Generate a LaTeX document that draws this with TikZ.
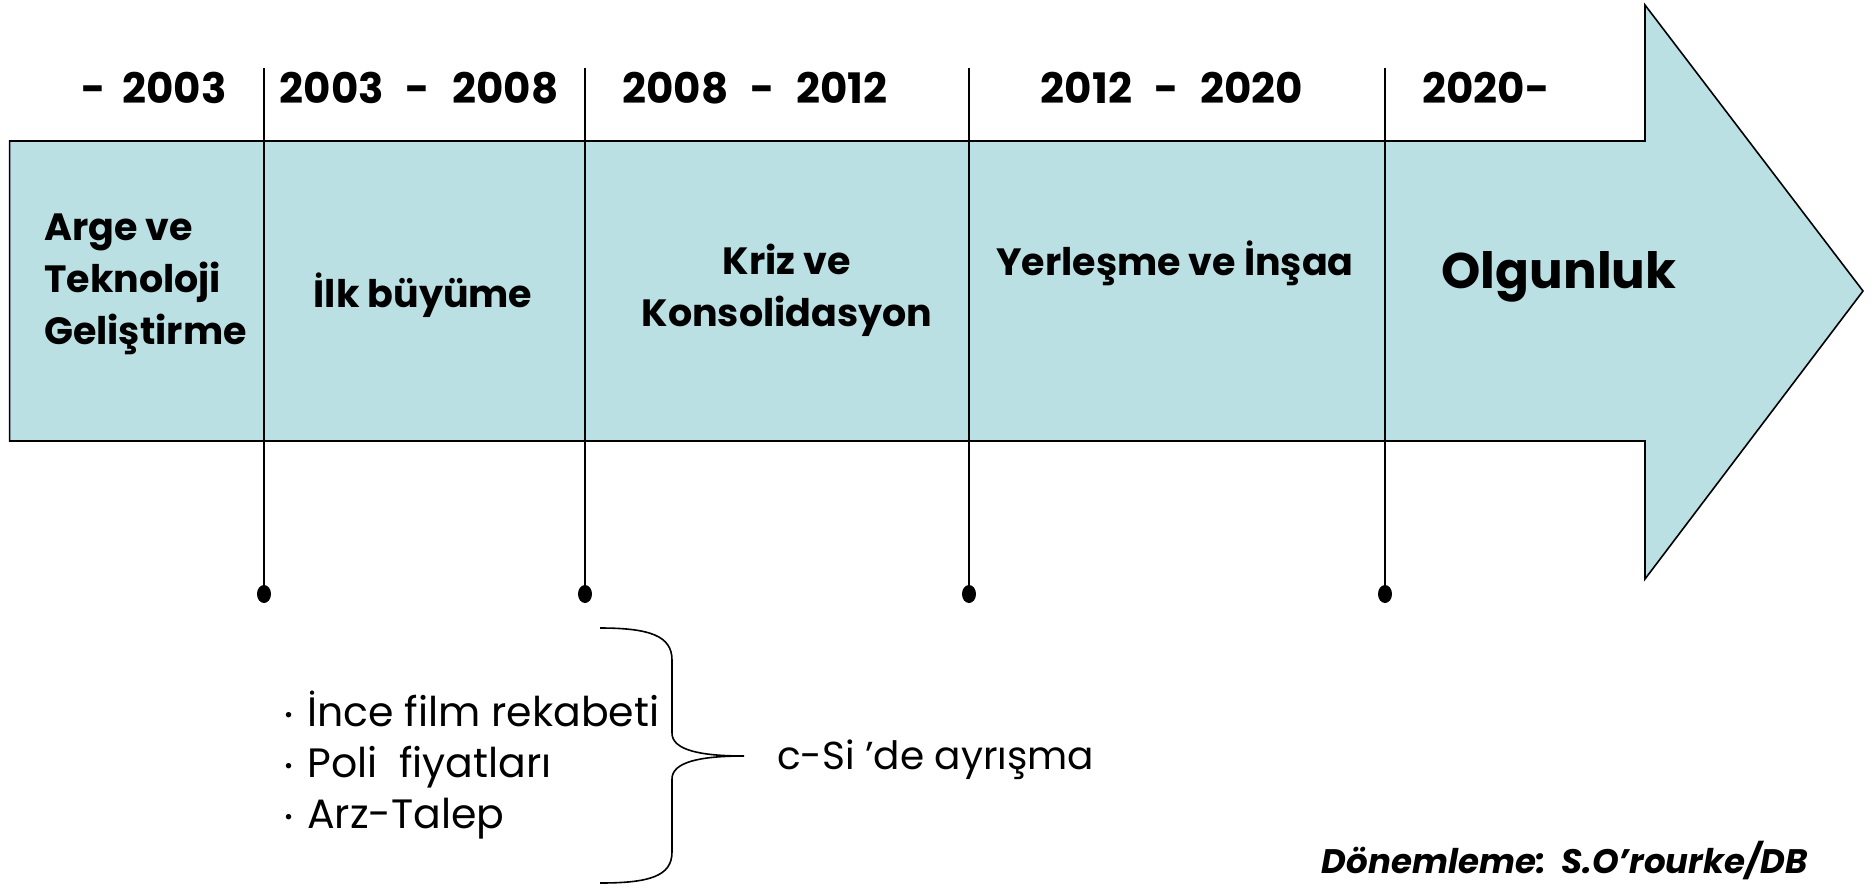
\documentclass[tikz,border=0pt]{standalone}
\usepackage{fontspec}
\usetikzlibrary{shapes.geometric}
\setmainfont{Poppins}
\definecolor{arrowfill}{RGB}{186,224,228}
\newcommand{\dsep}{\hspace{22pt}-\hspace{22pt}}
\newcommand{\bul}{{\fontsize{22}{22}\selectfont\raisebox{4pt}{•}}\hspace{14pt}}
\tikzset{
  yearlbl/.style={font=\fontsize{42}{48}\selectfont\bfseries, inner sep=0pt},
  phaselbl/.style={font=\fontsize{38}{52}\selectfont\bfseries, inner sep=0pt, align=center},
  bigphase/.style={font=\fontsize{50}{60}\selectfont\bfseries, inner sep=0pt},
  bulletlbl/.style={font=\fontsize{41}{46}\selectfont, inner sep=0pt, anchor=base west},
  dotmark/.style={ellipse, fill=black, inner sep=0pt, minimum width=14pt, minimum height=18pt},
  tick/.style={line width=1.6pt},
}
\begin{document}
\begin{tikzpicture}[x=1pt,y=-1pt]
\useasboundingbox (0,0) rectangle (1875,887);
% arrow
\draw[fill=arrowfill, line width=1.6pt, line join=miter]
  (9.6,141) -- (1645,141) -- (1645,5) -- (1863,291) -- (1645,579) -- (1645,441) -- (9.6,441) -- cycle;
% ticks
\foreach \i/\x in {1/264,2/585,3/969,4/1385}{
  \coordinate (t\i) at (\x,68);
  \node[dotmark] (d\i) at (\x,594) {};
  \draw[tick] (t\i) -- (d\i.center);
}
% year labels
\node[yearlbl] (y1) at (154,88) {-\hspace{17pt}2003};
\node[yearlbl] (y2) at (419,88) {2003\dsep2008};
\node[yearlbl] (y3) at (755,88) {2008\dsep2012};
\node[yearlbl] (y4) at (1172,88) {2012\dsep2020};
\node[yearlbl] (y5) at (1486,88) {2020-};
% phase labels
\node[phaselbl, align=left, anchor=west] (p1) at (44,284) {Arge ve\\Teknoloji\\Geliştirme};
\node[phaselbl] (p2) at (423,295) {İlk büyüme};
\node[phaselbl] (p3) at (787,290) {Kriz ve\\Konsolidasyon};
\node[phaselbl] (p4) at (1175,263) {Yerleşme ve İnşaa};
\node[bigphase] (p5) at (1559,277) {Olgunluk};
% bullets
\node[bulletlbl] (b1) at (284,726) {\bul İnce film rekabeti};
\node[bulletlbl] (b2) at (284,777) {\bul Poli\ \ fiyatları};
\node[bulletlbl] (b3) at (284,828) {\bul Arz-Talep};
% brace
\coordinate (bt) at (600,628);
\coordinate (bb) at (600,883);
\coordinate (btip) at (744,756);
\draw[line width=1.6pt] (bt) .. controls (650,628) and (672,636) .. (672,660) -- (672,733)
  .. controls (672,750) and (700,756) .. (btip)
  .. controls (700,756) and (672,762) .. (672,779) -- (672,852)
  .. controls (672,876) and (650,883) .. (bb);
\node[font=\fontsize{39}{44}\selectfont, inner sep=0pt, anchor=west] (cs) at (777,760) {c-Si 'de ayrışma};
% footer
\node[font=\fontsize{34}{38}\selectfont\bfseries\itshape, inner sep=0pt, anchor=base east] (ft) at (1808,873) {Dönemleme:\ \ S.O'rourke/DB};
\end{tikzpicture}
\end{document}
